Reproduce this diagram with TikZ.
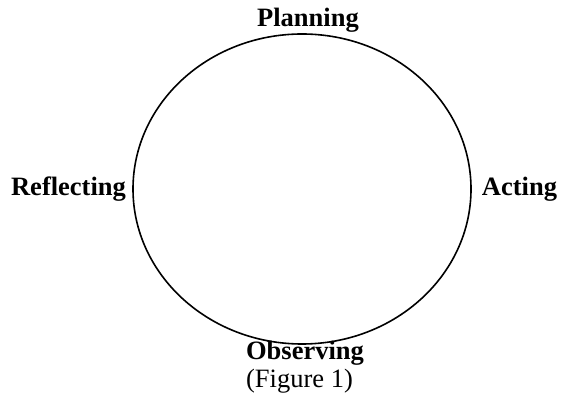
\documentclass[tikz,border=0pt]{standalone}
\usepackage{fontspec}
\setmainfont{Liberation Serif}
\usetikzlibrary{shapes.geometric}
\begin{document}
\begin{tikzpicture}[x=1pt,y=1pt,
  lbl/.style={font=\fontsize{26.5}{30}\selectfont\bfseries, inner sep=0pt, anchor=base},
  figcaption/.style={font=\fontsize{26.5}{30}\selectfont, inner sep=0pt, anchor=base}]
\useasboundingbox (0,0) rectangle (562,396);
\node[draw, line width=1.6pt, ellipse, minimum width=338pt, minimum height=310pt, inner sep=0pt] (cyc) at (302,207) {};
\node[lbl] (plan) at (308,369) {Planning};
\node[lbl] (refl) at (68.5,200) {Reflecting};
\node[lbl] (act) at (519.5,200) {Acting};
\node[lbl] (obs) at (305,36) {Observing};
\node[figcaption] (fig) at (299.5,9) {(Figure 1)};
\end{tikzpicture}
\end{document}
